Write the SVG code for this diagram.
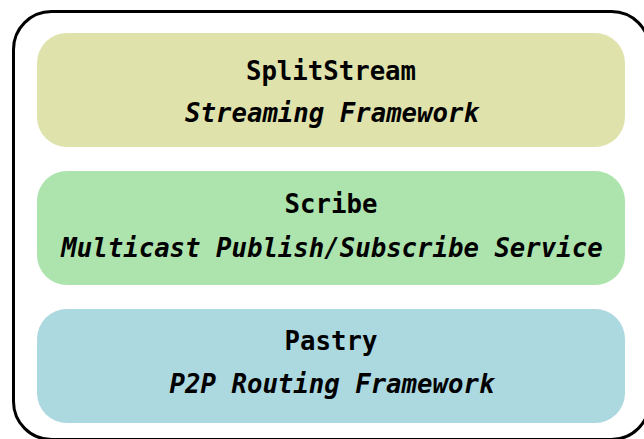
<svg xmlns="http://www.w3.org/2000/svg" width="644" height="439" viewBox="0 0 644 439">
  <style>
    .frame { fill: #ffffff; stroke: #000000; stroke-width: 3; }
    .layer { stroke: none; }
    .title { font-family: "DejaVu Sans Mono", "Liberation Mono", monospace; font-weight: bold; font-size: 25.7px; fill: #000000; text-anchor: middle; }
    .sub { font-family: "DejaVu Sans Mono", "Liberation Mono", monospace; font-weight: bold; font-style: italic; font-size: 25.7px; fill: #000000; text-anchor: middle; }
  </style>
  <rect width="644" height="439" fill="#ffffff"/>
  <!-- outer container -->
  <rect class="frame" x="13.5" y="11.5" width="636" height="428" rx="38" ry="38"/>
  <!-- stack of layers, top to bottom -->
  <g id="splitstream">
    <rect class="layer" x="37" y="33" width="588" height="114" rx="30" ry="30" fill="#dfe3ab"/>
    <text class="title" x="331" y="80">SplitStream</text>
    <text class="sub" x="332" y="122">Streaming Framework</text>
  </g>
  <g id="scribe">
    <rect class="layer" x="37" y="171" width="588" height="114" rx="30" ry="30" fill="#ade3ad"/>
    <text class="title" x="331" y="213">Scribe</text>
    <text class="sub" x="332" y="257">Multicast Publish/Subscribe Service</text>
  </g>
  <g id="pastry">
    <rect class="layer" x="37" y="309" width="588" height="114" rx="30" ry="30" fill="#acd8df"/>
    <text class="title" x="331" y="350">Pastry</text>
    <text class="sub" x="332" y="393">P2P Routing Framework</text>
  </g>
  <g id="connectors"/>
</svg>
